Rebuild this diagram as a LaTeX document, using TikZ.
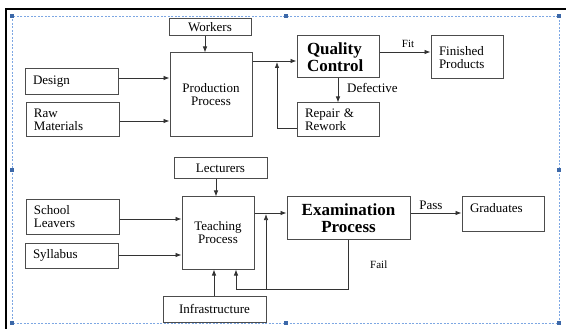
\documentclass[tikz,border=0pt]{standalone}
\usepackage{fontspec}
\setmainfont{Liberation Serif}
\usetikzlibrary{arrows.meta}
\newcommand\bxfont{\fontsize{13}{13}\selectfont}
\newcommand\bigbold{\fontsize{17}{17}\selectfont\bfseries}
\definecolor{selblue}{HTML}{7DA7E3}
\definecolor{handblue}{HTML}{3C68A8}
\tikzset{
  box/.style={draw=black!70, line width=1pt, inner xsep=8pt, inner ysep=0pt, align=left, font=\bxfont},
  arr/.style={-{Latex[length=6pt,width=4.5pt]}, line width=0.75pt, draw=black!80},
  lbl/.style={inner sep=0pt, font=\bxfont},
  small/.style={inner sep=0pt, font=\fontsize{11}{11}\selectfont},
}
\begin{document}
\begin{tikzpicture}[x=1pt,y=-1pt]
			\useasboundingbox (0,0) rectangle (566,329);
			% frame and selection
			\draw[line width=2.5pt] (6,329) -- (6,9) -- (566,9);
			\draw[selblue, line width=0.8pt, dash pattern=on 2pt off 1.5pt] (12,16) rectangle (559,323);
			\foreach \p in {(12,16),(286,16),(559,16),(12,170),(559,170),(12,323),(286,323),(559,323)}
				\fill[handblue] \p ++(-2.2,-2.2) rectangle ++(4.4,4.4);
			% production
			\node[box, align=center, text width=66pt, minimum height=17pt] (workers) at (210,27.5) {Workers};
			\node[box, align=center, text width=66pt, minimum height=84pt] (prod) at (211,95) {Production\\Process};
			\node[box, text width=77pt, minimum height=26pt] (design) at (71.5,82) {Design};
			\node[box, text width=77pt, minimum height=34pt] (raw) at (72.5,120) {Raw\\Materials};
			\node[box, inner xsep=10pt, text width=62pt, minimum height=42pt, font=\bigbold] (qc) at (338,57) {Quality\\Control};
			\node[box, text width=66pt, minimum height=34pt] (repair) at (338,120) {Repair \&\\Rework};
			\node[box, text width=56pt, minimum height=43pt] (finished) at (467,57.5) {Finished\\Products};
			\coordinate (pj) at (277,61);
			\draw[arr] (design.east |- 0,78) -- (prod.west |- 0,78);
			\draw[arr] (raw.east |- 0,121) -- (prod.west |- 0,121);
			\draw[arr] (workers.south -| 205,0) -- (prod.north -| 205,0);
			\draw[arr] (prod.east |- pj) -- (qc.west |- pj);
			\draw[arr] (repair.west |- 0,128) -| ([yshift=-1pt]pj);
			\draw[arr] (qc.south) -- (repair.north);
			\draw[arr] (qc.east |- 0,52) -- (finished.west |- 0,52);
			\node[small] (fit) at (408,44) {Fit};
			\node[lbl, anchor=west] (defective) at (347,88) {Defective};
			% teaching
			\node[box, align=center, text width=77pt, minimum height=21pt] (lecturers) at (220.5,168.5) {Lecturers};
			\node[box, align=center, text width=56pt, minimum height=72pt] (teach) at (218,233) {Teaching\\Process};
			\node[box, text width=77pt, minimum height=34pt] (school) at (72.5,217) {School\\Leavers};
			\node[box, text width=77pt, minimum height=25pt] (syllabus) at (71.5,255.5) {Syllabus};
			\node[box, align=center, text width=87pt, minimum height=26pt] (infra) at (214.5,309) {Infrastructure};
			\node[box, align=center, text width=107pt, minimum height=42pt, font=\bigbold] (exam) at (348.5,218) {Examination\\Process};
			\node[box, text width=66pt, minimum height=34pt, text depth=12pt] (grad) at (503,214) {Graduates};
			\coordinate (tj) at (266,213);
			\coordinate (fl) at (236,289);
			\draw[arr] (school.east |- 0,219) -- (teach.west |- 0,219);
			\draw[arr] (syllabus.east |- 0,255) -- (teach.west |- 0,255);
			\draw[arr] (lecturers.south -| 216,0) -- (teach.north -| 216,0);
			\draw[arr] (infra.north -| 214,0) -- (teach.south -| 214,0);
			\draw[arr] (teach.east |- tj) -- (exam.west |- tj);
			\draw[arr] (exam.south -| 348,0) |- (fl) -- (fl |- teach.south);
			\draw[arr] (tj |- fl) -- ([yshift=-1pt]tj);
			\draw[arr] (exam.east |- tj) -- (grad.west |- tj);
			\node[lbl] (pass) at (431,205) {Pass};
			\node[small, anchor=west] (fail) at (370,265) {Fail};
		\end{tikzpicture}
\end{document}
